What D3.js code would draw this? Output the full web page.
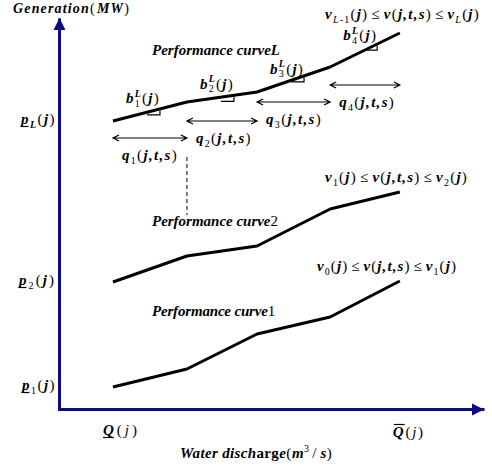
<!DOCTYPE html>
<html>
<head>
<meta charset="utf-8">
<script src="https://cdn.jsdelivr.net/npm/d3@7/dist/d3.min.js"></script>
<style>
  body { margin: 0; background: #fff; }
</style>
</head>
<body>
<div id="chart"></div>
<script>
var width = 492,
    height = 466;

// water discharge at the breakpoints of every performance curve
var discharge = [12.7, 30.1, 46.6, 63.8, 80.2];
// generation at those breakpoints, one list per curve
var curveL = [72, 76.75, 79.25, 85.5, 94];
var curve2 = [31.75, 38.25, 40.75, 50, 54.25];
var curve1 = [5.5, 10, 18.75, 23, 32];
// height of the q_k(j,t,s) double arrows
var qLevels = [67.75, 72, 76.75, 81];
var segNames = ["1", "2", "3", "4"];

var FONT = "'Liberation Serif','Times New Roman',serif";
var AXIS = "#0b0b84";

var svg = d3.select("#chart")
  .append("svg")
  .attr("width", width)
  .attr("height", height);

var x = d3.scaleLinear().domain([0, 100]).range([59, 484]);
var y = d3.scaleLinear().domain([0, 97.75]).range([409, 18]);

// axes: no ticks, just the domain line and an arrow head
svg.append("g")
  .attr("transform", "translate(0," + y(0) + ")")
  .call(d3.axisBottom(x).tickValues([]).tickSizeOuter(0))
  .select(".domain").attr("stroke", AXIS).attr("stroke-width", 3);
svg.append("g")
  .attr("transform", "translate(" + x(0) + ",0)")
  .call(d3.axisLeft(y).tickValues([]).tickSizeOuter(0))
  .select(".domain").attr("stroke", AXIS).attr("stroke-width", 3);
svg.append("rect").attr("x", x(0) - 1).attr("y", y(0) - 1).attr("width", 3).attr("height", 3).attr("fill", AXIS);

var xEnd = x(100), yTop = y(97.75);
svg.append("path")
  .attr("d", "M" + xEnd + "," + (y(0) + 0.5) + "l-12,-6l0,12z")
  .attr("fill", AXIS);
svg.append("path")
  .attr("d", "M" + (x(0) + 0.5) + "," + yTop + "l-6,12l12,0z")
  .attr("fill", AXIS);

// curves
var line = d3.line()
  .x(function(d, i) { return x(discharge[i]); })
  .y(function(d) { return y(d); });

[curveL, curve2, curve1].forEach(function(c) {
  svg.append("path")
    .attr("d", line(c))
    .attr("fill", "none")
    .attr("stroke", "#000")
    .attr("stroke-width", 3)
    .attr("stroke-linejoin", "round");
});

// ---- rich text (italic math with sub / superscripts) ----
function piece(t, f, o) { return Object.assign({ t: t, f: f }, o || {}); }
function bi(t, o) { return piece(t, "bi", o); }
function rr(t, o) { return piece(t, "r", o); }
function sb(t, f) { return piece(t, f || "bi", { d: "sub" }); }
function sp(t, f, stack) { return piece(t, f || "bi", { d: "sup", stack: stack }); }

// fit: wanted width in px, spread as letter spacing
function rich(x0, y0, parts, fit, anchor, size) {
  size = size || 15;
  var g = svg.append("g");
  var items = parts.map(function(p) {
    var el = g.append("text")
      .attr("font-family", FONT)
      .attr("font-size", p.d ? size * 2 / 3 : size)
      .attr("font-weight", /b/.test(p.f) ? "bold" : "normal")
      .attr("font-style", /i/.test(p.f) ? "italic" : "normal")
      .attr("y", p.d === "sub" ? 3.5 : p.d === "sup" ? -6.5 : 0)
      .text(p.t);
    return { el: el, p: p, w: el.node().getComputedTextLength() + (p.pad || 0) * 2 };
  });
  var slots = [];
  items.forEach(function(e, i) {
    if (i > 0 && items[i - 1].p.stack) {
      var s = slots[slots.length - 1];
      s.items.push(e);
      s.w = Math.max(s.w, e.w);
      s.n = Math.max(s.n, e.p.t.length);
    } else slots.push({ items: [e], w: e.w, n: e.p.t.length });
  });
  var total = d3.sum(slots, function(s) { return s.w; });
  var chars = d3.sum(slots, function(s) { return s.n; });
  var ls = fit ? Math.max(-0.5, (fit - total) / chars) : 0;
  var cx = 0;
  slots.forEach(function(s) {
    s.items.forEach(function(e) {
      e.el.attr("x", cx + (e.p.pad || 0)).attr("letter-spacing", ls);
      var ew = e.w + ls * e.p.t.length;
      if (e.p.ul) g.append("line").attr("x1", cx).attr("x2", cx + ew - ls).attr("y1", 2.5).attr("y2", 2.5)
        .attr("stroke", "#000").attr("stroke-width", 1.2);
      if (e.p.ol) g.append("line").attr("x1", cx + 1).attr("x2", cx + ew - ls + 1).attr("y1", -12.5).attr("y2", -12.5)
        .attr("stroke", "#000").attr("stroke-width", 1.2);
    });
    cx += s.w + ls * s.n;
  });
  var dx = anchor === "end" ? -cx : anchor === "middle" ? -cx / 2 : 0;
  g.attr("transform", "translate(" + (x0 + dx) + "," + y0 + ")");
  return cx;
}

var LE = { pad: 3 };

// axis titles
rich(13, 13, [bi("Generation"), rr(" ("), bi("MW"), rr(")")], 117, null, 14);
rich(180, 458, [bi("Water disch"), piece("arg", "b"), bi("e"), rr(" ("), bi("m"), sp("3", "r"), rr(" / ", LE), bi("s"), rr(")")], 152);
rich(x(discharge[0]) - 10, 435, [bi("Q", { ul: true }), rr("("), piece("j", "i"), rr(")")], 37);
rich(x(discharge[4]) - 7, 437, [bi("Q", { ol: true }), rr("("), piece("j", "i"), rr(")")], 32);

// minimum output labels on the y axis
[["L", curveL, 35], ["2", curve2, 37], ["1", curve1, 34]].forEach(function(c) {
  rich(56, y(c[1][0]) + 3, [bi("p", { ul: true }), sb(c[0], c[0] === "L" ? "bi" : "r"), rr("("), bi("j"), rr(")")], c[2], "end");
});

// curve names
rich(152, 55, [bi("Performance curve"), bi("L")], 128);
rich(152, 226, [bi("Performance curve"), rr("2")], 126);
rich(152, 316, [bi("Performance curve"), rr("1")], 123);

// validity ranges of each curve
function range(lo, hi) {
  return [bi("v")].concat(lo, [rr("("), bi("j"), rr(")"), rr("≤", LE), bi("v"), rr("("), bi("j,t,s"), rr(")"), rr("≤", LE), bi("v")], hi, [rr("("), bi("j"), rr(")")]);
}
rich(325, 19, range([sb("L", "i"), sb("-1", "r")], [sb("L", "i")]), 155);
rich(325, 182, range([sb("1", "r")], [sb("2", "r")]), 143);
rich(317, 271, range([sb("0", "r")], [sb("1", "r")]), 140);

// slopes b_k^L and ranges q_k on curve L
var onL = d3.scaleLinear().domain(discharge).range(curveL);
var bDy = [-10, -9, -8, -12];
segNames.forEach(function(k, i) {
  var x0 = x(discharge[i]), x1 = x(discharge[i + 1]);
  var lx = x0 + 13;
  var ly = y(onL(x.invert(lx + 17))) + bDy[i];
  var w = rich(lx, ly, [bi("b"), sp("L", "bi", true), sb(k, "r"), rr("("), bi("j"), rr(")")], 34);
  var mx = lx + w;
  var my = y(onL(x.invert(mx)));
  svg.append("path")
    .attr("d", "M" + (mx - 13) + "," + (my + 6) + "H" + mx + "V" + (my + 1.5))
    .attr("fill", "none").attr("stroke", "#000").attr("stroke-width", 1.2);

  var ay = y(qLevels[i]);
  svg.append("path")
    .attr("d", "M" + (x0 + 6) + "," + (ay - 3) + "L" + x0 + "," + ay + "L" + (x0 + 6) + "," + (ay + 3) +
      "M" + x0 + "," + ay + "H" + x1 +
      "M" + (x1 - 6) + "," + (ay - 3) + "L" + x1 + "," + ay + "L" + (x1 - 6) + "," + (ay + 3))
    .attr("fill", "none").attr("stroke", "#000").attr("stroke-width", 1.2);
  rich(x0 + 9, ay + 22, [bi("q"), sb(k, "r"), rr("("), bi("j,t,s"), rr(")")], 56);
});

// dashed guide under the first range
svg.append("line")
  .attr("x1", x(discharge[1])).attr("x2", x(discharge[1]))
  .attr("y1", y(qLevels[0]) + 19).attr("y2", y(curve2[0]) - 67)
  .attr("stroke", "#000").attr("stroke-width", 1).attr("stroke-dasharray", "4,3");
</script>
</body>
</html>
